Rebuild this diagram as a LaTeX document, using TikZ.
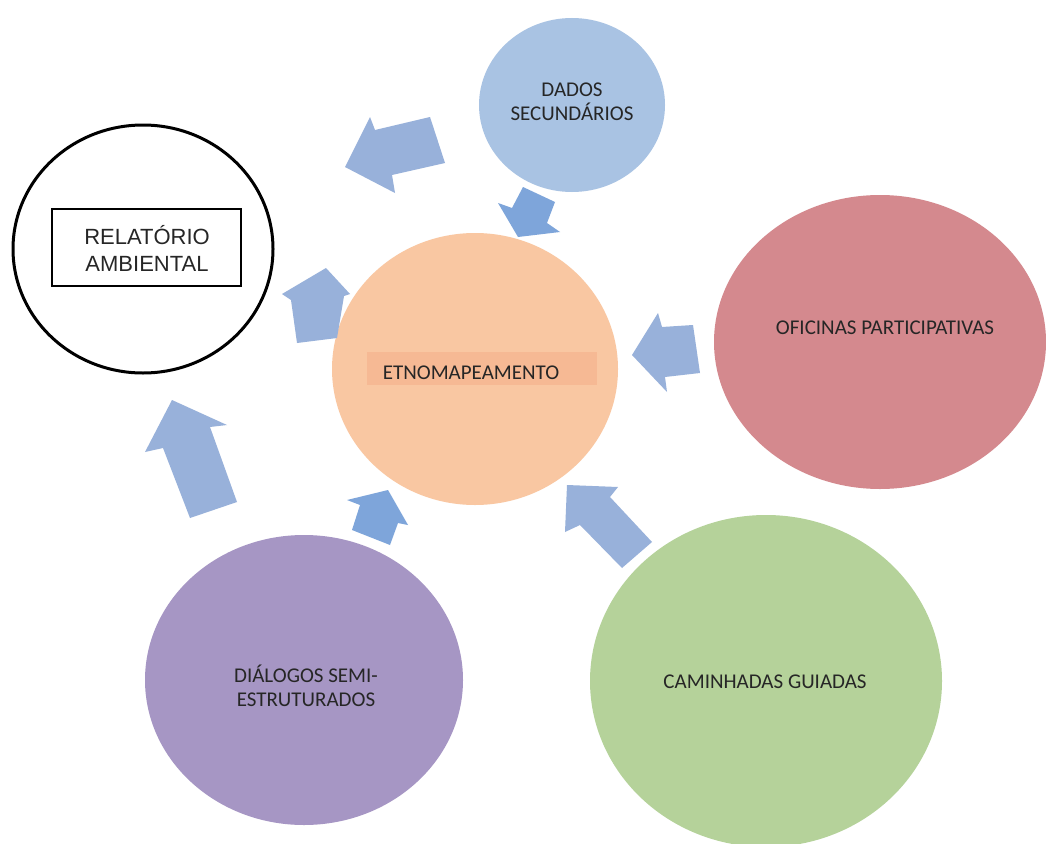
\documentclass[tikz,border=0pt]{standalone}
\usepackage{fontspec}
\setmainfont{Carlito}
\newfontfamily\arialf{Liberation Sans}
\usetikzlibrary{shapes.geometric}
\definecolor{cdados}{HTML}{A9C3E3}
\definecolor{cetno}{HTML}{F9C7A2}
\definecolor{cetnobox}{HTML}{F6B994}
\definecolor{cofic}{HTML}{D4898E}
\definecolor{ccam}{HTML}{B5D29A}
\definecolor{cdia}{HTML}{A696C4}
\definecolor{carrA}{HTML}{98B1DA}
\definecolor{carrB}{HTML}{7EA5DA}
\definecolor{ctext}{HTML}{262626}
\begin{document}
\begin{tikzpicture}[x=1pt,y=-1pt,
  bubble/.style={ellipse,draw=none,inner sep=0pt},
  lbl/.style={text=ctext,font=\fontsize{21}{24}\selectfont,align=center,inner sep=0pt},
  blockarr/.style={fill=carrA,draw=none},
  blockarrdark/.style={fill=carrB,draw=none}]
\useasboundingbox (0,0) rectangle (1046,843);
\fill[white] (0,0) rectangle (1046,843);

% circles
\node[ellipse,draw=black,line width=3pt,fill=white,inner sep=0pt,minimum width=260pt,minimum height=248pt] (rel) at (143,249) {};
\node[bubble,fill=cdados,minimum width=186pt,minimum height=174pt] (dados) at (572,105) {};
\node[bubble,fill=cetno,minimum width=286pt,minimum height=272pt] (etno) at (475,369) {};
\node[bubble,fill=cofic,minimum width=332pt,minimum height=294pt] (ofic) at (880,342) {};
\node[bubble,fill=ccam,minimum width=352pt,minimum height=332pt] (cam) at (766,681) {};
\node[bubble,fill=cdia,minimum width=318pt,minimum height=290pt] (dia) at (304,680) {};

% inner boxes
\node[draw=black,line width=1.3pt,fill=white,minimum width=189pt,minimum height=77pt,inner sep=0pt] (relbox) at (146.5,247.5) {};
\node[fill=cetnobox,minimum width=230pt,minimum height=33pt,inner sep=0pt] (etnobox) at (482,368.5) {};

% texts
\node[text=ctext,font=\arialf\fontsize{22}{27}\selectfont,align=center,inner sep=0pt] (reltxt) at (147,248) {RELATÓRIO\\AMBIENTAL};
\node[lbl] (dadostxt) at (572,102) {DADOS\\SECUNDÁRIOS};
\node[lbl] (etnotxt) at (471,373) {ETNOMAPEAMENTO};
\node[lbl] (ofictxt) at (885,328) {OFICINAS PARTICIPATIVAS};
\node[lbl] (camtxt) at (765,682) {CAMINHADAS GUIADAS};
\node[lbl] (diatxt) at (306,686) {DIÁLOGOS SEMI-\\ESTRUTURADOS};

% block arrows
\fill[blockarr] (345,167) -- (370,117) -- (375,130) -- (430,117) -- (445,163) -- (392,175) -- (395,193) -- cycle;
\fill[blockarrdark] (518,237) -- (498,203) -- (512,208) -- (523,187) -- (555,202) -- (547,223) -- (560,232) -- cycle;
\fill[blockarr] (326,268) -- (350,294) -- (344,296) -- (337,338) -- (297,343) -- (291,300) -- (282,294) -- cycle;
\fill[blockarr] (632,355) -- (658,313) -- (662,327) -- (693,325) -- (700,373) -- (665,377) -- (667,392) -- cycle;
\fill[blockarr] (567,485) -- (618,487) -- (610,497) -- (652,542) -- (622,568) -- (580,525) -- (565,532) -- cycle;
\fill[blockarrdark] (388,490) -- (408,525) -- (398,523) -- (390,545) -- (352,530) -- (360,505) -- (347,500) -- cycle;
\fill[blockarr] (172,400) -- (227,425) -- (210,427) -- (237,502) -- (190,518) -- (163,448) -- (145,452) -- cycle;
\end{tikzpicture}
\end{document}
